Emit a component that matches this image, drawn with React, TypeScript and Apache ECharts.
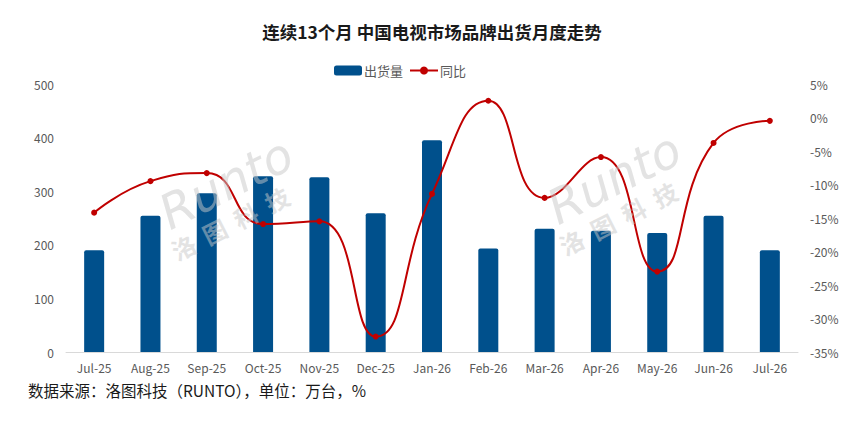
import React, { useEffect, useRef } from "react";
import * as echarts from "echarts";

const categories = ["Jul-25", "Aug-25", "Sep-25", "Oct-25", "Nov-25", "Dec-25", "Jan-26", "Feb-26", "Mar-26", "Apr-26", "May-26", "Jun-26", "Jul-26"];
const shipments = [190, 254, 296, 328, 326, 259, 395, 193, 230, 226, 222, 254, 190];
const yoy = [-14.2, -9.5, -8.3, -15.9, -15.5, -32.7, -11.4, 2.5, -12.0, -5.9, -23.0, -3.8, -0.5];

const FONT = "'Noto Sans CJK SC', 'Noto Sans', sans-serif";

function watermark(cx: number, cy: number) {
  return [
    {
      type: "text",
      x: cx,
      y: cy - 20,
      rotation: 0.47,
      z: 100,
      silent: true,
      style: {
        text: "Runto",
        font: "italic 48px 'DejaVu Sans', sans-serif",
        fill: "rgba(200,200,200,0.5)",
        align: "center",
        verticalAlign: "middle",
      },
    },
    {
      type: "text",
      x: cx + 4,
      y: cy + 20,
      rotation: 0.47,
      z: 100,
      silent: true,
      style: {
        text: "洛  图  科  技",
        font: "bold 24px 'Noto Sans CJK SC', sans-serif",
        fill: "rgba(200,200,200,0.5)",
        align: "center",
        verticalAlign: "middle",
      },
    },
  ];
}

export default function App() {
  const ref = useRef<HTMLDivElement>(null);
  useEffect(() => {
    if (!ref.current) return;
    const chart = echarts.init(ref.current, null, { renderer: "svg" });
    chart.setOption({
      animation: false,
      backgroundColor: "#ffffff",
      title: {
        text: "连续13个月 中国电视市场品牌出货月度走势",
        left: "center",
        top: 18,
        textStyle: { fontFamily: FONT, fontSize: 17.5, fontWeight: "bold", color: "#1a1a1a" },
      },
      legend: {
        top: 59,
        left: 329,
        itemGap: 6,
        itemWidth: 28,
        itemHeight: 10,
        textStyle: { fontFamily: FONT, fontSize: 13, color: "#595959", padding: [0, 0, 0, -3] },
        data: [
          { name: "出货量", icon: "roundRect" },
          { name: "同比" },
        ],
      },
      grid: { left: 66, right: 66, top: 84, bottom: 69 },
      xAxis: {
        type: "category",
        data: categories,
        axisTick: { show: false },
        axisLine: { lineStyle: { color: "#D9D9D9", width: 1 } },
        axisLabel: { color: "#595959", fontSize: 12, fontFamily: FONT, margin: 9, interval: 0 },
      },
      yAxis: [
        {
          type: "value",
          min: 0,
          max: 500,
          interval: 100,
          splitLine: { show: false },
          axisLine: { show: false },
          axisTick: { show: false },
          axisLabel: { color: "#595959", fontSize: 12, fontFamily: FONT, margin: 12 },
        },
        {
          type: "value",
          min: -35,
          max: 5,
          interval: 5,
          splitLine: { show: false },
          axisLine: { show: false },
          axisTick: { show: false },
          axisLabel: { color: "#595959", fontSize: 12, fontFamily: FONT, margin: 12, formatter: "{value}%" },
        },
      ],
      series: [
        {
          name: "出货量",
          type: "bar",
          data: shipments,
          barWidth: 20,
          itemStyle: { color: "#00508C", borderRadius: [2, 2, 0, 0] },
          z: 2,
        },
        {
          name: "同比",
          type: "line",
          yAxisIndex: 1,
          data: yoy,
          smooth: 0.5,
          symbol: "circle",
          symbolSize: 6,
          lineStyle: { color: "#C00000", width: 2 },
          itemStyle: { color: "#C00000" },
          z: 3,
        },
      ],
      graphic: [
        ...watermark(226, 203),
        ...watermark(614, 198),
        {
          type: "text",
          left: 28,
          top: 382,
          style: {
            text: "数据来源：洛图科技（RUNTO），单位：万台，%",
            font: `15.5px ${FONT}`,
            fill: "#1a1a1a",
          },
        },
      ],
    });
    return () => chart.dispose();
  }, []);
  return (
    <div
      ref={ref}
      style={{ position: "fixed", left: 0, top: 0, width: 864, height: 421 }}
    />
  );
}
